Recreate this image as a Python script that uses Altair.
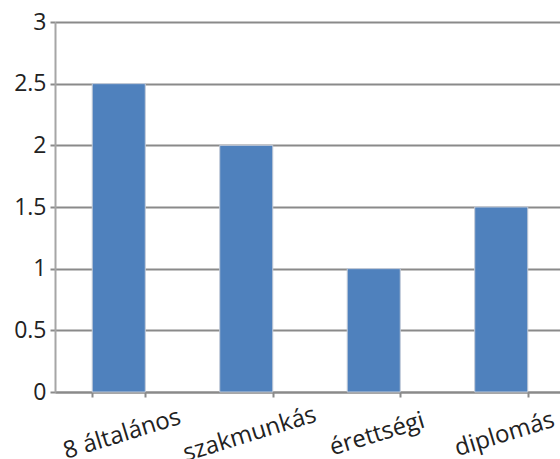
import altair as alt
import pandas as pd

# Categories and their values
categories = ["8 általános", "szakmunkás", "érettségi", "diplomás"]
values = [2.5, 2.0, 1.0, 1.5]

df = pd.DataFrame({"kategoria": categories, "ertek": values})

FONT = "Open Sans"
GRID = "#8a8a8a"

bars = alt.Chart(df).mark_bar(
    color="#4f81bd", stroke="#c3cbd8", strokeWidth=1
).encode(
    x=alt.X(
        "kategoria:N",
        sort=categories,
        title=None,
        scale=alt.Scale(range=[0, 510], paddingInner=0.584, paddingOuter=0.292),
        axis=alt.Axis(
            labelAngle=-17,
            labelAlign="center",
            labelBaseline="middle",
            labelPadding=37,
            labelOffset=3,
            labelFont=FONT,
            labelFontSize=24,
            labelColor="#222222",
            tickBand="extent",
            tickSize=5,
            tickWidth=2,
            tickColor=GRID,
            domainColor=GRID,
            domainWidth=2,
            grid=False,
        ),
    ),
    y=alt.Y(
        "ertek:Q",
        title=None,
        scale=alt.Scale(domain=[0, 3], nice=False),
        axis=alt.Axis(
            values=[0, 0.5, 1, 1.5, 2, 2.5, 3],
            format="~g",
            labelFont=FONT,
            labelFontSize=23,
            labelColor="#222222",
            labelPadding=4,
            tickSize=5,
            tickWidth=2,
            tickColor=GRID,
            domainColor="#a6a6a6",
            domainWidth=2,
            grid=True,
            gridColor=GRID,
            gridWidth=2,
        ),
    ),
)

chart = bars.properties(
    width=505,
    height=370,
    autosize=alt.AutoSizeParams(type="none"),
    padding={"left": 55, "top": 22, "right": 0, "bottom": 67},
    background="white",
).configure_view(stroke=None)

chart.save("out.html", embed_options={"renderer": "svg", "actions": False})
